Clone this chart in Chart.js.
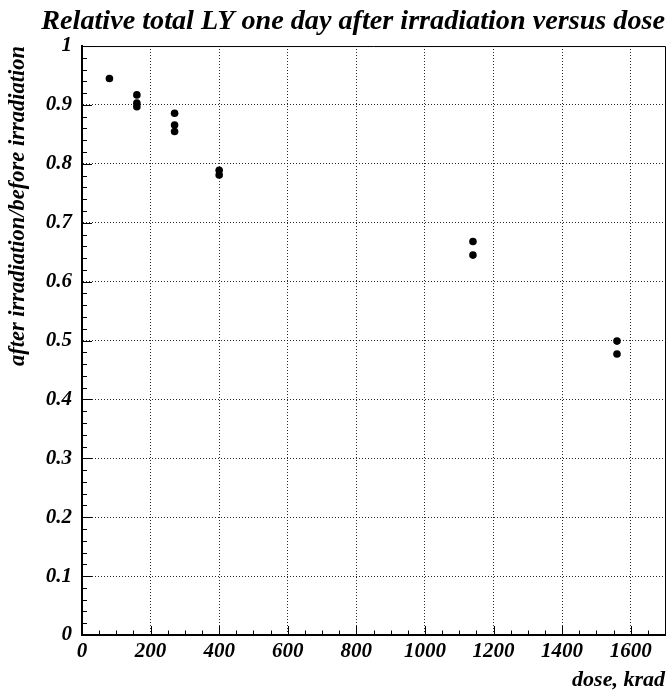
<!DOCTYPE html>
<html>
<head>
<meta charset="utf-8">
<script src="https://cdn.jsdelivr.net/npm/chart.js@4.4.0/dist/chart.umd.min.js"></script>
<style>
  html, body { margin: 0; padding: 0; background: #fff; }
</style>
</head>
<body>
<canvas id="lyChart" width="669" height="691"></canvas>
<script>
// dose in krad, ratio = LY after irradiation / LY before irradiation
const doses = [80, 160, 160, 160, 270, 270, 270, 400, 400, 1140, 1140, 1560, 1560];
const ratios = [0.945, 0.917, 0.903, 0.897, 0.886, 0.866, 0.855, 0.789, 0.781, 0.668, 0.645, 0.499, 0.477];

const xTicks = [0, 200, 400, 600, 800, 1000, 1200, 1400, 1600];
const yTicks = [0, 0.1, 0.2, 0.3, 0.4, 0.5, 0.6, 0.7, 0.8, 0.9, 1];
const xMinorStep = 50;
const yMinorStep = 0.02;

const serif = "'Liberation Serif', 'Times New Roman', serif";
const font = (size) => ({ family: serif, size: size, style: "italic", weight: "bold" });

// ROOT style: inward tick marks + closed frame
const rootFrame = {
    id: "rootFrame",
    afterDraw(chart) {
        const { ctx, chartArea: a, scales } = chart;
        const x = scales.x, y = scales.y;
        ctx.save();
        ctx.strokeStyle = "#000";
        ctx.lineWidth = 1;
        ctx.beginPath();

        const nx = Math.round((x.max - x.min) / xMinorStep);
        for (let i = 0; i <= nx; i++) {
            const v = x.min + i * xMinorStep;
            const len = xTicks.includes(v) ? 9 : 4.5;
            const px = Math.round(x.getPixelForValue(v)) + 0.5;
            ctx.moveTo(px, a.bottom);
            ctx.lineTo(px, a.bottom - len);
        }

        const ny = Math.round((y.max - y.min) / yMinorStep);
        for (let i = 0; i <= ny; i++) {
            const v = y.min + i * yMinorStep;
            const len = i % 5 === 0 ? 10 : 5;
            const py = Math.round(y.getPixelForValue(v)) + 0.5;
            ctx.moveTo(a.left, py);
            ctx.lineTo(a.left + len, py);
        }

        // top and right edges of the frame
        ctx.moveTo(a.left, a.top + 0.5);
        ctx.lineTo(a.right + 0.5, a.top + 0.5);
        ctx.lineTo(a.right + 0.5, a.bottom);
        ctx.stroke();
        ctx.restore();
    },
};

new Chart(document.getElementById("lyChart"), {
    type: "scatter",
    data: {
        datasets: [
            {
                label: "LY ratio",
                data: doses.map((d, i) => ({ x: d, y: ratios[i] })),
                backgroundColor: "#000",
                borderWidth: 0,
                pointRadius: 3.8,
            },
        ],
    },
    options: {
        responsive: false,
        animation: false,
        layout: { padding: { left: 0, right: 4, top: 0, bottom: 0 } },
        plugins: {
            legend: { display: false },
            tooltip: { enabled: false },
            title: {
                display: true,
                text: "Relative total LY one day after irradiation versus dose",
                align: "end",
                color: "#000",
                font: font(28.2),
                padding: { top: 5, bottom: 7.2 },
            },
        },
        scales: {
            x: {
                type: "linear",
                min: 0,
                max: 1700,
                afterBuildTicks: (scale) => {
                    scale.ticks = xTicks.map((v) => ({ value: v }));
                },
                afterFit: (scale) => {
                    scale.height = 56;
                },
                ticks: {
                    color: "#000",
                    font: font(21),
                    padding: 4,
                    maxRotation: 0,
                    callback: (v) => String(v),
                },
                grid: { color: "rgba(0,0,0,0.85)", lineWidth: 1, drawTicks: false },
                border: { color: "#000", width: 2, dash: [1, 2] },
                title: {
                    display: true,
                    text: "dose, krad",
                    align: "end",
                    color: "#000",
                    font: font(22),
                    padding: { top: 0, bottom: -3 },
                },
            },
            y: {
                type: "linear",
                min: 0,
                max: 1,
                afterBuildTicks: (scale) => {
                    scale.ticks = yTicks.map((v) => ({ value: v }));
                },
                afterFit: (scale) => {
                    scale.width = 82;
                },
                ticks: {
                    color: "#000",
                    font: font(21),
                    padding: 10,
                    callback: (v) => String(v),
                },
                grid: { color: "rgba(0,0,0,0.85)", lineWidth: 1, drawTicks: false },
                border: { color: "#000", width: 2, dash: [1, 2] },
                title: {
                    display: true,
                    text: "after irradiation/before irradiation",
                    align: "end",
                    color: "#000",
                    font: font(22.5),
                    padding: { top: 5, bottom: 0 },
                },
            },
        },
    },
    plugins: [rootFrame],
});
</script>
</body>
</html>
